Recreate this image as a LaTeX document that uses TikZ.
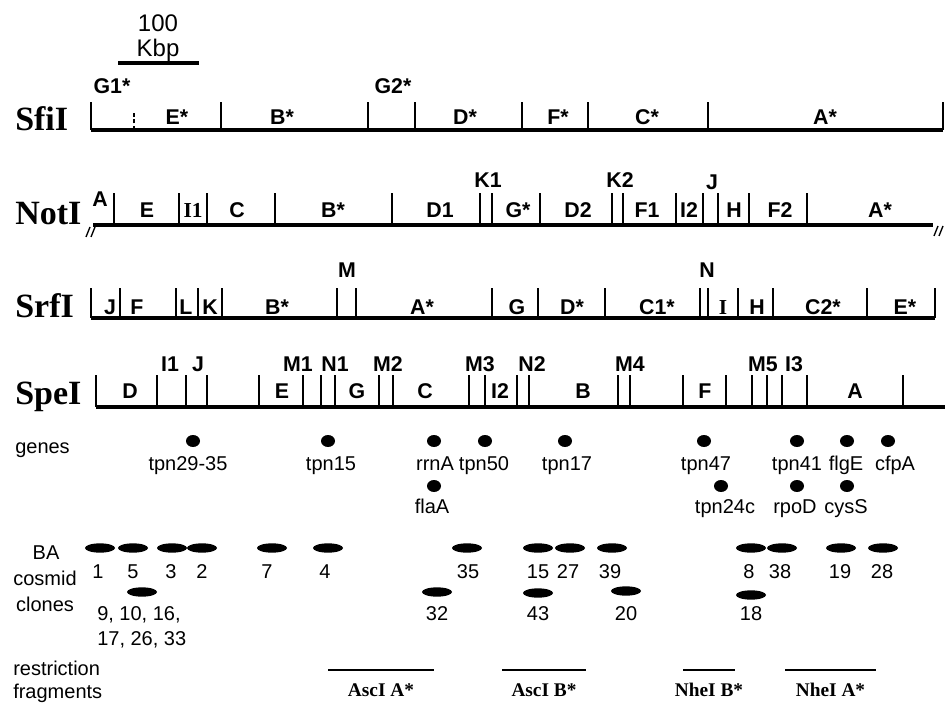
\documentclass[tikz,border=0pt]{standalone}
\usepackage{fontspec}
\setmainfont{Liberation Serif}
\setsansfont{Liberation Sans}
\usetikzlibrary{calc}
\usetikzlibrary{shapes.geometric}

\tikzset{
  mapline/.style={line width=2.8pt},
  cut/.style={line width=1.4pt},
  enzyme/.style={font=\rmfamily\bfseries\fontsize{25.5}{26}\selectfont, anchor=base west, inner sep=0pt},
  frag/.style={font=\sffamily\bfseries\fontsize{16}{17}\selectfont, anchor=base, inner sep=0pt},
  side/.style={font=\sffamily\fontsize{15}{16}\selectfont, inner sep=0pt},
  small/.style={font=\sffamily\fontsize{15}{16}\selectfont, anchor=base, inner sep=0pt},
  enzfrag/.style={font=\rmfamily\bfseries\fontsize{14.5}{15}\selectfont, anchor=base, inner sep=0pt},
  gene/.style={ellipse, fill, inner sep=0pt, minimum width=10.5pt, minimum height=9pt},
  clone/.style={ellipse, fill, inner sep=0pt, minimum width=22.5pt, minimum height=7pt},
}

\begin{document}
\begin{tikzpicture}[x=0.75pt, y=-0.75pt]
  \useasboundingbox (0,0) rectangle (945,705);

  \pgfmathsetmacro{\sfiy}{130}
  \pgfmathsetmacro{\noty}{225}
  \pgfmathsetmacro{\srfy}{318}
  \pgfmathsetmacro{\spey}{407}

  % scale bar
  \coordinate (barL) at (118,63);
  \coordinate (barR) at (199,63);
  \draw [line width=3pt] (barL) -- (barR);
  \node [small, font=\sffamily\fontsize{18}{18}\selectfont] (kb100) at (158,32) {100};
  \node [small, font=\sffamily\fontsize{18}{18}\selectfont] (kbp) at (158,57) {Kbp};

  % SfiI
  \node [enzyme] (sfi) at (15,131) {SfiI};
  \draw [mapline] (91,\sfiy) -- (943,\sfiy);
  \foreach \x in {91, 221, 368, 415, 522, 588, 708, 943}
    \draw [cut] (\x,\sfiy) -- (\x,102);
  \draw [cut, densely dashed, line width=0.9pt] (134,\sfiy) -- (134,113);
  \foreach \x/\t [count=\i] in {177/E*, 282/B*, 465/D*, 558/F*, 647/C*, 825/A*}
    \node [frag] (sfi\i) at (\x,125) {\t};
  \node [frag] (sfiG1) at (112,94) {G1*};
  \node [frag] (sfiG2) at (393,94) {G2*};

  % NotI
  \node [enzyme] (not) at (15,225) {NotI};
  \draw [mapline] (93,\noty) -- (933,\noty);
  \draw [line width=1pt] (86,237) -- (90,227) (91,237) -- (95,227);
  \draw [line width=1pt] (934,236) -- (938,226) (939,236) -- (943,226);
  \foreach \x in {114, 179, 207, 275, 392, 480, 492, 540, 612, 623, 676, 703, 718, 749, 807}
    \draw [cut] (\x,\noty) -- (\x,193);
  \foreach \x/\t [count=\i] in {147/E, 193/{\rmfamily I1}, 237/C, 333/B*, 440/D1, 518/G*,
      578/D2, 647/F1, 689/I2, 734/H, 780/F2, 880/A*}
    \node [frag] (not\i) at (\x,218) {\t};
  \node [frag] (notA) at (100,207) {A};
  \node [frag] (notK1) at (488,188) {K1};
  \node [frag] (notK2) at (620,188) {K2};
  \node [frag] (notJ) at (712,190) {J};

  % SrfI
  \node [enzyme] (srf) at (15,318) {SrfI};
  \draw [mapline] (91,\srfy) -- (935,\srfy);
  \foreach \x in {91, 120, 176, 198, 222, 337, 356, 492, 538, 605, 700, 708, 738, 773, 867, 935}
    \draw [cut] (\x,\srfy) -- (\x,288);
  \foreach \x/\t [count=\i] in {110/J, 137/F, 186/L, 210/K, 277/B*, 422/A*, 517/G, 572/D*,
      657/C1*, 723/{\rmfamily I}, 757/H, 823/C2*, 905/E*}
    \node [frag] (srf\i) at (\x,315) {\t};
  \node [frag] (srfM) at (347,278) {M};
  \node [frag] (srfN) at (707,278) {N};

  % SpeI
  \node [enzyme] (spe) at (15,405) {SpeI};
  \draw [mapline] (96,\spey) -- (945,\spey);
  \foreach \x in {96, 157, 186, 207, 259, 303, 321, 335, 379, 393, 469, 485, 517, 529,
      618, 630, 683, 726, 752, 767, 782, 807, 903}
    \draw [cut] (\x,\spey) -- (\x,375);
  \foreach \x/\t [count=\i] in {130/D, 282/E, 357/G, 425/C, 500/I2, 583/B, 705/F, 855/A}
    \node [frag] (spe\i) at (\x,398) {\t};
  \foreach \x/\t [count=\i] in {170/I1, 198/J, 298/M1, 335/N1, 388/M2, 480/M3, 532/N2,
      630/M4, 763/M5, 794/I3}
    \node [frag] (speup\i) at (\x,372) {\t};

  % genes
  \node [side, anchor=base west] (genes) at (15,453) {genes};
  \foreach \x/\lx/\t [count=\i] in {193/188/tpn29-35, 328/331/tpn15, 434/435/rrnA, 485/484/tpn50,
      565/567/tpn17, 704/706/tpn47, 797/797/tpn41, 847/846/flgE, 888/895/cfpA}
  {
    \node [gene] (dot\i) at (\x,441) {};
    \node [small] (gname\i) at (\lx,470) {\t};
  }
  \foreach \x/\lx/\t [count=\i] in {434/432/flaA, 721/725/tpn24c, 797/795/rpoD, 847/846/cysS}
  {
    \node [gene] (dotb\i) at (\x,486) {};
    \node [small] (gnameb\i) at (\lx,513) {\t};
  }

  % BA cosmid clones
  \node [side, anchor=base] (ba) at (46,559) {BA};
  \node [side, anchor=base] (cosmid) at (45,585) {cosmid};
  \node [side, anchor=base] (clones) at (45,611) {clones};
  \foreach \x/\lx/\t [count=\i] in {100/98/1, 133/133/5, 172/171/3, 202/202/2, 272/267/7,
      328/325/4, 467/468/35, 538/538/15, 570/568/27, 612/610/39, 751/749/8, 782/780/38,
      841/840/19, 883/882/28}
  {
    \node [clone] (cos\i) at (\x,548) {};
    \node [small] (cosn\i) at (\lx,578) {\t};
  }
  \foreach \x/\y/\t [count=\i] in {437/592/32, 538/593/43, 626/591/20, 751/595/18}
  {
    \node [clone] (cosb\i) at (\x,\y) {};
    \node [small] (cosbn\i) at (\x,620) {\t};
  }
  \node [clone] (cosmany) at (142,592) {};
  \node [small, anchor=base west] (manyA) at (97,620) {9, 10, 16,};
  \node [small, anchor=base west] (manyB) at (97,645) {17, 26, 33};

  % restriction fragments
  \node [side, anchor=base west] (restr) at (13,675) {restriction};
  \node [side, anchor=base west] (frags) at (13,698) {fragments};
  \foreach \a/\b/\t [count=\i] in {328/434/AscI A*, 502/586/AscI B*, 683/735/NheI B*, 785/876/NheI A*}
  {
    \coordinate (fragL\i) at (\a,670);
    \coordinate (fragR\i) at (\b,670);
    \draw [line width=2.2pt] (fragL\i) -- (fragR\i);
    \node [enzfrag] (fragname\i) at ($(fragL\i)!0.5!(fragR\i) + (0,26)$) {\t};
  }
\end{tikzpicture}
\end{document}
